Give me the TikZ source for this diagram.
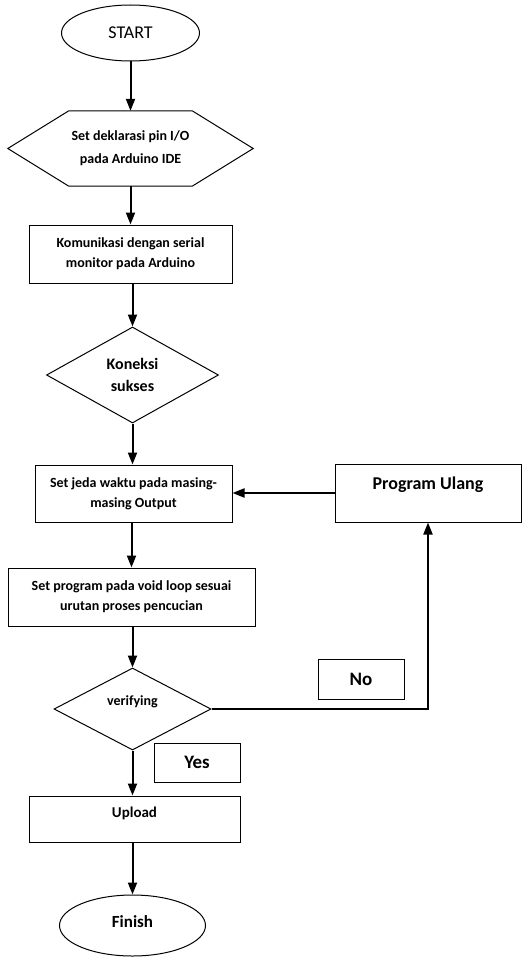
\documentclass[tikz,border=0pt]{standalone}
\usepackage{fontspec}
\setmainfont{Carlito}
\usetikzlibrary{shapes.geometric,arrows.meta}
\begin{document}
\begin{tikzpicture}[x=1pt,y=-1pt,
  base/.style={draw=black,line width=1pt,inner sep=0pt,align=center,font=\fontsize{14}{20}\selectfont\bfseries},
  box/.style={base,rectangle},
  term/.style={base,ellipse},
  dec/.style={base,diamond},
  arr/.style={line width=2pt,-{Triangle[length=12pt,width=9pt]}},
  lnk/.style={line width=2pt}]
\useasboundingbox (0,0) rectangle (522,958);
% nodes
\node[term,minimum width=138,minimum height=56,font=\fontsize{18}{22}\selectfont] (start) at (130.5,33) {START};
\node[inner sep=0pt,minimum width=245,minimum height=75,align=center,font=\fontsize{14}{23}\selectfont\bfseries] (hex) at (130.5,148.5) {Set deklarasi pin I/O\\pada Arduino IDE};
\draw[line width=1pt] ([xshift=61]hex.north west) -- ([xshift=-61]hex.north east) -- (hex.east)
  -- ([xshift=-61]hex.south east) -- ([xshift=61]hex.south west) -- (hex.west) -- cycle;
\node[box,minimum width=203,minimum height=58] (kom) at (130.5,254) {Komunikasi dengan serial\\monitor pada Arduino};
\node[dec,minimum width=172,minimum height=96,font=\fontsize{16}{22}\selectfont\bfseries] (kon) at (132.5,375) {Koneksi\\sukses};
\node[box,minimum width=197,minimum height=57] (jeda) at (133.5,493.5) {Set jeda waktu pada masing-\\masing Output};
\node[box,minimum width=186,minimum height=58,label={[font=\fontsize{18}{22}\selectfont\bfseries,yshift=8]center:Program Ulang}] (ulang) at (428,493) {};
\node[box,minimum width=247,minimum height=58] (setp) at (131.5,597) {Set program pada void loop sesuai\\urutan proses pencucian};
\node[dec,minimum width=157,minimum height=82,label={[font=\fontsize{14}{20}\selectfont\bfseries,yshift=7]center:verifying}] (ver) at (132.5,709) {};
\node[box,minimum width=86,minimum height=40,font=\fontsize{19}{22}\selectfont\bfseries] (no) at (361,679) {No};
\node[box,minimum width=86,minimum height=39,font=\fontsize{19}{22}\selectfont\bfseries] (yes) at (197,762.5) {Yes};
\node[box,minimum width=211,minimum height=46,label={[font=\fontsize{15}{20}\selectfont\bfseries,yshift=6]center:Upload}] (up) at (134.5,819) {};
\node[term,minimum width=146,minimum height=61,label={[font=\fontsize{17}{22}\selectfont\bfseries,yshift=4]center:Finish}] (fin) at (132.5,925.5) {};
% connectors
\draw[arr] (start.south) -- (start.south |- hex.north);
\draw[arr] (hex.south) -- (hex.south |- kom.north);
\draw[arr] ([xshift=2]kom.south) -- ([xshift=2]kom.south |- kon.north);
\draw[arr] (kon.south) -- (kon.south |- jeda.north);
\draw[arr] (ulang.west) -- (ulang.west -| jeda.east);
\draw[arr] ([xshift=-2]jeda.south) -- ([xshift=-2]jeda.south |- setp.north);
\draw[arr] (ver.north |- setp.south) -- (ver.north);
\draw[arr] (ver.east) -| (ulang.south);
\draw[arr] (ver.south) -- (ver.south |- up.north);
\draw[arr] (fin.north |- up.south) -- (fin.north);
\end{tikzpicture}
\end{document}
